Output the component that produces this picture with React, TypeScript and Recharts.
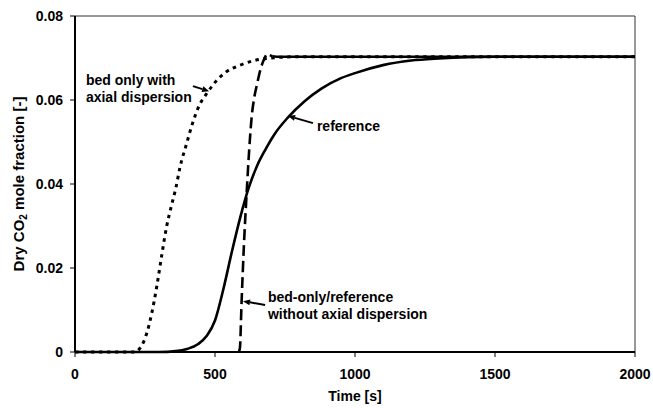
import { LineChart, Line, XAxis, YAxis, ReferenceLine, ReferenceDot, Label } from "recharts";

// breakthrough curves, time in s, dry CO2 mole fraction
const refTimes = [0, 300, 360, 400, 440, 470, 500, 530, 560, 590, 620, 650, 680, 715, 760, 820, 880, 950, 1000, 1100, 1200, 1300, 1400, 1500, 2000];
const refValues = [0, 0, 0.0002, 0.0007, 0.0019, 0.0038, 0.0075, 0.015, 0.0238, 0.032, 0.039, 0.0443, 0.0482, 0.0521, 0.0558, 0.0597, 0.0627, 0.0652, 0.0664, 0.0683, 0.0694, 0.0699, 0.0702, 0.0703, 0.0703];

const axialTimes = [0, 215, 232, 256, 274, 292, 309, 327, 345, 360, 375, 399, 420, 446, 470, 500, 540, 590, 640, 700, 800, 2000];
const axialValues = [0, 0, 0.0009, 0.0044, 0.0092, 0.0156, 0.0227, 0.0298, 0.035, 0.039, 0.044, 0.0497, 0.0545, 0.059, 0.0615, 0.0642, 0.0667, 0.0683, 0.0694, 0.07, 0.0703, 0.0703];

// no dispersion: zero until the front arrives, so the series starts there
const plugTimes = [585, 589, 595, 603, 613, 622, 631, 640, 651, 662, 672, 680, 687, 695, 705, 720, 2000];
const plugValues = [0, 0.001, 0.012, 0.025, 0.0378, 0.048, 0.056, 0.0605, 0.064, 0.0672, 0.0692, 0.0704, 0.071, 0.0707, 0.0704, 0.0703, 0.0703];

const xTicks = [0, 500, 1000, 1500, 2000];
const yTicks = [0, 0.02, 0.04, 0.06, 0.08];

// annotation text anchors and arrows, in data units
const noteLines = [
  ["bed only with", "axial dispersion"],
  ["reference"],
  ["bed-only/reference", "without axial dispersion"],
];
const noteAt = [
  { t: 39, v: 0.0648 },
  { t: 864, v: 0.0538 },
  { t: 689, v: 0.0131 },
];
const arrowFrom = [
  { t: 421, v: 0.0633 },
  { t: 850, v: 0.0545 },
  { t: 679, v: 0.0112 },
];
const arrowTo = [
  { t: 479, v: 0.0621 },
  { t: 761, v: 0.0562 },
  { t: 600, v: 0.0121 },
];

const toRows = (ts: number[], vs: number[]) => ts.map((t, i) => ({ t, v: vs[i] }));
const refRows = toRows(refTimes, refValues);
const axialRows = toRows(axialTimes, axialValues);
const plugRows = toRows(plugTimes, plugValues);
const plugRise = plugRows.filter((r) => r.t <= 705);
const plugFlat = plugRows.filter((r) => r.t >= 705);

const FONT = '"Liberation Sans", Arial, sans-serif';

const Arrow = (props: any) => {
  const { x1, y1, x2, y2 } = props;
  const a = Math.atan2(y2 - y1, x2 - x1);
  const len = 7;
  const w = 3;
  const bx = x2 - len * Math.cos(a);
  const by = y2 - len * Math.sin(a);
  const px = -Math.sin(a) * w;
  const py = Math.cos(a) * w;
  return (
    <g>
      <line x1={x1} y1={y1} x2={bx} y2={by} stroke="#000" strokeWidth={2} />
      <polygon points={`${x2},${y2} ${bx + px},${by + py} ${bx - px},${by - py}`} fill="#000" />
    </g>
  );
};

const noteShape = (lines: string[]) => (props: any) => (
  <text x={props.cx} y={props.cy} fontFamily={FONT} fontWeight="bold" fontSize={14} fill="#000">
    {lines.map((s, i) => (
      <tspan key={i} x={props.cx} dy={i === 0 ? 5 : 17.5}>
        {s}
      </tspan>
    ))}
  </text>
);

const XTitle = (props: any) => {
  const { x, y, width } = props.viewBox;
  return (
    <text x={x + width / 2} y={y + 49} textAnchor="middle" fontFamily={FONT} fontWeight="bold" fontSize={14} fill="#000">
      Time [s]
    </text>
  );
};

const YTitle = (props: any) => {
  const { y, height } = props.viewBox;
  const cx = 24;
  const cy = y + height / 2;
  return (
    <text x={cx} y={cy} transform={`rotate(-90, ${cx}, ${cy})`} textAnchor="middle" fontFamily={FONT} fontWeight="bold" fontSize={15} fill="#000">
      Dry CO
      <tspan fontSize={10} dy={3}>2</tspan>
      <tspan dy={-3}> mole fraction [-]</tspan>
    </text>
  );
};

const tickStyle = { fontFamily: FONT, fontWeight: "bold", fontSize: 14, fill: "#000" };

export default function App() {
  return (
    <div style={{ position: "absolute", left: 0, top: 0, background: "#fff" }}>
      <LineChart width={653} height={408} margin={{ top: 16, right: 18, left: 0, bottom: 0 }}>
        <XAxis
          type="number"
          dataKey="t"
          domain={[0, 2000]}
          ticks={xTicks}
          height={56}
          tickSize={5}
          tickMargin={12}
          tick={tickStyle}
          axisLine={{ stroke: "#000", strokeWidth: 2 }}
          tickLine={{ stroke: "#000" }}
        >
          <Label content={<XTitle />} />
        </XAxis>
        <YAxis
          type="number"
          domain={[0, 0.08]}
          ticks={yTicks}
          width={75}
          tickSize={5}
          tickMargin={7}
          tick={tickStyle}
          tickFormatter={(v: number) => (v === 0 ? "0" : v.toFixed(2))}
          axisLine={{ stroke: "#000", strokeWidth: 2 }}
          tickLine={{ stroke: "#000" }}
        >
          <Label content={<YTitle />} />
        </YAxis>
        <ReferenceLine y={0.08} stroke="#333" strokeWidth={1} />
        <ReferenceLine x={2000} stroke="#333" strokeWidth={1} />

        <Line data={axialRows} dataKey="v" type="monotone" stroke="#000" strokeWidth={3} strokeDasharray="3.5 4.5" dot={false} activeDot={false} isAnimationActive={false} />
        <Line data={plugRise} dataKey="v" type="monotone" stroke="#000" strokeWidth={2.6} strokeDasharray="11 5" dot={false} activeDot={false} isAnimationActive={false} />
        <Line data={plugFlat} dataKey="v" type="monotone" stroke="#000" strokeWidth={2.6} dot={false} activeDot={false} isAnimationActive={false} />
        <Line data={refRows} dataKey="v" type="monotone" stroke="#000" strokeWidth={2.6} dot={false} activeDot={false} isAnimationActive={false} />

        {noteLines.map((lines, i) => (
          <ReferenceDot key={`n${i}`} x={noteAt[i].t} y={noteAt[i].v} r={0} shape={noteShape(lines)} />
        ))}
        {arrowFrom.map((p, i) => (
          <ReferenceLine
            key={`a${i}`}
            segment={[
              { x: p.t, y: p.v },
              { x: arrowTo[i].t, y: arrowTo[i].v },
            ]}
            shape={Arrow}
          />
        ))}
      </LineChart>
    </div>
  );
}
